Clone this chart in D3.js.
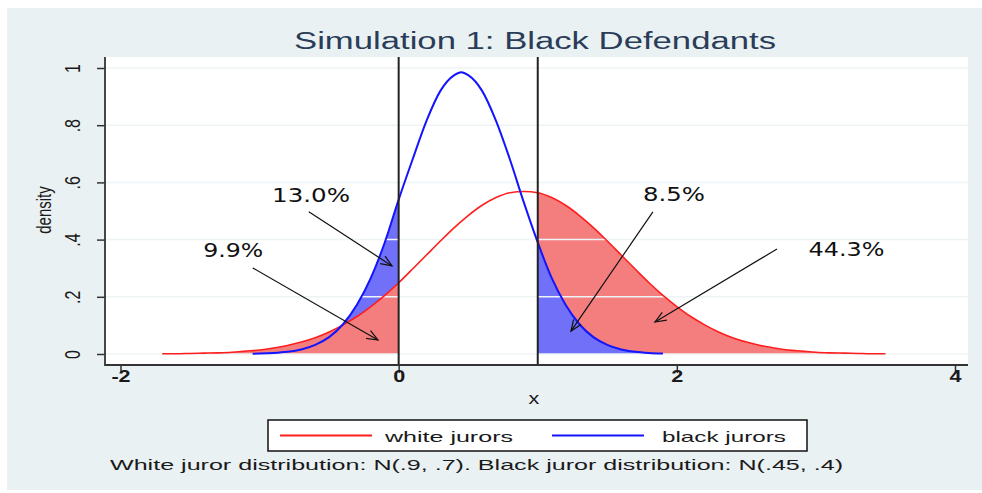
<!DOCTYPE html>
<html>

<head>
    <meta charset="UTF-8">
    <style>
        body { margin: 0; background: #fff; }
        svg { display: block; }
    </style>
</head>

<body>
    <svg></svg>
    <script src="https://d3js.org/d3.v7.min.js"></script>
    <script>

        // values
        const whiteX = [-1.7, -1.6, -1.5, -1.4, -1.3, -1.2, -1.1, -1.0, -0.9, -0.8, -0.7, -0.6, -0.5, -0.4, -0.3, -0.2, -0.1,
            0, 0.1, 0.2, 0.3, 0.4, 0.5, 0.6, 0.7, 0.8, 0.9, 1.0, 1.1, 1.2, 1.3, 1.4, 1.5, 1.6, 1.7, 1.8, 1.9, 2.0,
            2.1, 2.2, 2.3, 2.4, 2.5, 2.6, 2.7, 2.8, 2.9, 3.0, 3.1, 3.2, 3.3, 3.4, 3.5];
        const whiteY = [0.001, 0.001, 0.002, 0.003, 0.004, 0.006, 0.010, 0.014, 0.021, 0.030, 0.042, 0.057, 0.077, 0.102, 0.131, 0.166, 0.205,
            0.249, 0.297, 0.346, 0.395, 0.442, 0.484, 0.520, 0.547, 0.564, 0.568, 0.564, 0.547, 0.520, 0.484, 0.442, 0.395, 0.346, 0.297, 0.249, 0.205, 0.166,
            0.131, 0.102, 0.077, 0.057, 0.042, 0.030, 0.021, 0.014, 0.010, 0.006, 0.004, 0.003, 0.002, 0.001, 0.001];

        const blackX = [-1.05, -1.0, -0.9, -0.8, -0.7, -0.6, -0.5, -0.4, -0.3, -0.2, -0.1, 0, 0.1, 0.2, 0.3, 0.4, 0.45,
            0.5, 0.6, 0.7, 0.8, 0.9, 1.0, 1.1, 1.2, 1.3, 1.4, 1.5, 1.6, 1.7, 1.8, 1.9];
        const blackY = [0.001, 0.0014, 0.0034, 0.0076, 0.016, 0.032, 0.059, 0.104, 0.172, 0.266, 0.39, 0.54, 0.68, 0.815, 0.92, 0.975, 0.985,
            0.975, 0.92, 0.815, 0.68, 0.53, 0.39, 0.266, 0.172, 0.104, 0.059, 0.032, 0.016, 0.0076, 0.0034, 0.0014];

        const cutLow = 0, cutHigh = 1;

        const xTicks = [-2, 0, 2, 4];
        const yTicks = [0, 0.2, 0.4, 0.6, 0.8, 1];
        const yTickLabels = ["0", ".2", ".4", ".6", ".8", "1"];

        // annotations (data units)
        const annoLabels = ["13.0%", "9.9%", "8.5%", "44.3%"];
        const annoTextX = [-0.63, -1.19, 1.98, 3.22];
        const annoTextY = [0.531, 0.339, 0.535, 0.343];
        const arrowFromX = [-0.646, -1.049, 1.828, 2.72];
        const arrowFromY = [0.497, 0.301, 0.497, 0.367];
        const arrowToX = [-0.048, -0.149, 1.239, 1.843];
        const arrowToY = [0.308, 0.049, 0.08, 0.112];

        const seriesNames = ["white jurors", "black jurors"];
        const titleText = "Simulation 1: Black Defendants";
        const noteText = "White juror distribution: N(.9, .7). Black juror distribution: N(.45, .4)";

        let width = 982, height = 493;
        const bg = "#eaf1f3", redLine = "#ff1e1e", blueLine = "#1414ff";
        const redFill = "#f47e7e", blueFill = "#7070f8";
        const font = "Liberation Sans, Arial, sans-serif";

        let svg = d3.select("svg").attr("width", width).attr("height", height);

        // stretch text to a given width (the picture is wider than the font)
        function fit(sel, w) {
            sel.attr("textLength", w).attr("lengthAdjust", "spacingAndGlyphs");
        }

        svg.append("rect").attr("x", 7).attr("y", 8).attr("width", width - 7).attr("height", 482).attr("fill", bg);

        const pl = 105, pr = 968, pt = 57, pb = 365;
        svg.append("rect").attr("x", pl).attr("y", pt).attr("width", pr - pl).attr("height", pb - pt).attr("fill", "#fff");

        const x = d3.scaleLinear().domain([-2, 4]).range([120.5, 955]);
        const y = d3.scaleLinear().domain([0, 1]).range([354, 68]);

        const white = whiteX.map((d, i) => ({ x: d, y: whiteY[i] }));
        const black = blackX.map((d, i) => ({ x: d, y: blackY[i] }));

        const area = d3.area().x(d => x(d.x)).y0(y(0)).y1(d => y(d.y)).curve(d3.curveMonotoneX);
        const line = d3.line().x(d => x(d.x)).y(d => y(d.y)).curve(d3.curveMonotoneX);

        // shaded tails: left side red over blue, right side blue over red
        svg.append("path").attr("d", area(black.filter(d => d.x <= cutLow))).attr("fill", blueFill);
        svg.append("path").attr("d", area(white.filter(d => d.x <= cutLow))).attr("fill", redFill);
        svg.append("path").attr("d", area(white.filter(d => d.x >= cutHigh))).attr("fill", redFill);
        svg.append("path").attr("d", area(black.filter(d => d.x >= cutHigh))).attr("fill", blueFill);

        // gridlines
        svg.append("g").selectAll("line").data(yTicks).enter().append("line")
            .attr("x1", pl).attr("x2", pr)
            .attr("y1", d => y(d)).attr("y2", d => y(d))
            .attr("stroke", "#eef3f5").attr("stroke-width", 1.5);

        svg.append("path").attr("d", line(white)).attr("fill", "none").attr("stroke", redLine).attr("stroke-width", 1.6);
        svg.append("path").attr("d", line(black)).attr("fill", "none").attr("stroke", blueLine).attr("stroke-width", 2);

        // cutoff lines
        svg.append("g").selectAll("line").data([cutLow, cutHigh]).enter().append("line")
            .attr("x1", d => x(d)).attr("x2", d => x(d))
            .attr("y1", pt).attr("y2", pb)
            .attr("stroke", "#222").attr("stroke-width", 2);

        // axes
        const yAxis = svg.append("g").attr("transform", "translate(" + pl + ",0)")
            .call(d3.axisLeft(y).tickValues(yTicks).tickSize(8).tickFormat((d, i) => yTickLabels[i]));
        yAxis.select(".domain").remove();
        yAxis.selectAll(".tick line").attr("stroke", "#333").attr("stroke-width", 1.5);
        yAxis.selectAll(".tick text")
            .attr("x", null).attr("dy", null).attr("y", 0)
            .attr("text-anchor", "middle")
            .attr("transform", "translate(-25,0) scale(1.4,1) rotate(-90)")
            .style("font-family", font).style("font-size", "16px").attr("fill", "#1a1a1a");

        const xAxis = svg.append("g").attr("transform", "translate(0," + pb + ")")
            .call(d3.axisBottom(x).tickValues(xTicks).tickSize(8).tickFormat(d3.format("d")));
        xAxis.select(".domain").remove();
        xAxis.selectAll(".tick line").attr("stroke", "#333").attr("stroke-width", 1.5);
        xAxis.selectAll(".tick text")
            .attr("y", 0).attr("dy", null)
            .attr("transform", "translate(0,17) scale(1.35,1)")
            .text(d => d < 0 ? "-" + Math.abs(d) : d)
            .style("font-family", font).style("font-size", "16px").style("font-weight", "bold").attr("fill", "#1a1a1a");

        svg.append("line").attr("x1", pl).attr("x2", pl).attr("y1", pt).attr("y2", pb + 1)
            .attr("stroke", "#333").attr("stroke-width", 1.8);
        svg.append("line").attr("x1", pl).attr("x2", pr).attr("y1", pb).attr("y2", pb)
            .attr("stroke", "#333").attr("stroke-width", 1.8);

        // axis titles
        svg.append("text").text("density")
            .attr("text-anchor", "middle")
            .attr("transform", "translate(51,210) scale(1.35,1) rotate(-90)")
            .style("font-family", font).style("font-size", "15px").attr("fill", "#1a1a1a");
        svg.append("text").text("x")
            .attr("text-anchor", "middle")
            .attr("transform", "translate(534,404) scale(1.35,1)")
            .style("font-family", font).style("font-size", "16px").attr("fill", "#1a1a1a");

        // title
        svg.append("text").text(titleText)
            .attr("x", 535).attr("y", 49).attr("text-anchor", "middle")
            .style("font-family", font).style("font-size", "23px").attr("fill", "#2a3d58")
            .call(fit, 482);

        // annotations
        const annoW = [78, 60, 62, 76];
        svg.append("g").selectAll("text").data(annoLabels).enter().append("text")
            .text(d => d)
            .attr("x", (d, i) => x(annoTextX[i])).attr("y", (d, i) => y(annoTextY[i]))
            .attr("text-anchor", "middle")
            .style("font-family", "DejaVu Sans, sans-serif").style("font-size", "19px").attr("fill", "#111")
            .each(function (d, i) { fit(d3.select(this), annoW[i]); });

        const arrows = svg.append("g").attr("stroke", "#111").attr("stroke-width", 1.2).attr("fill", "none");
        annoLabels.forEach((d, i) => {
            const x1 = x(arrowFromX[i]), y1 = y(arrowFromY[i]), x2 = x(arrowToX[i]), y2 = y(arrowToY[i]);
            const a = Math.atan2(y2 - y1, x2 - x1), len = 12, spread = 0.38;
            arrows.append("line").attr("x1", x1).attr("y1", y1).attr("x2", x2).attr("y2", y2);
            arrows.append("path").attr("d",
                "M" + (x2 - len * Math.cos(a - spread)) + "," + (y2 - len * Math.sin(a - spread)) +
                "L" + x2 + "," + y2 +
                "L" + (x2 - len * Math.cos(a + spread)) + "," + (y2 - len * Math.sin(a + spread)));
        });

        // legend
        const legend = svg.append("g");
        legend.append("rect").attr("x", 268).attr("y", 420).attr("width", 539).attr("height", 31)
            .attr("fill", "#fff").attr("stroke", "#111").attr("stroke-width", 1.5);
        const legX = [280, 552], legTextX = [385, 662], legTextW = [128, 124], legColor = [redLine, blueLine];
        seriesNames.forEach((name, i) => {
            legend.append("line").attr("x1", legX[i]).attr("x2", legX[i] + 92).attr("y1", 435.5).attr("y2", 435.5)
                .attr("stroke", legColor[i]).attr("stroke-width", 2);
            legend.append("text").text(name).attr("x", legTextX[i]).attr("y", 442)
                .style("font-family", font).style("font-size", "15px").attr("fill", "#1a1a1a")
                .call(fit, legTextW[i]);
        });

        svg.append("text").text(noteText).attr("x", 110).attr("y", 470)
            .style("font-family", font).style("font-size", "15px").attr("fill", "#1a1a1a")
            .call(fit, 733);

    </script>

</body>

</html>
